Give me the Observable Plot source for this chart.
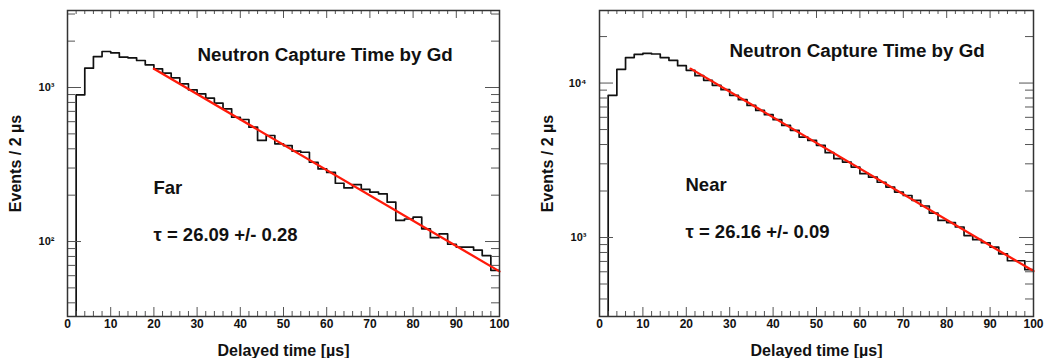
<!DOCTYPE html>
<html><head><meta charset="utf-8">
<script src="https://cdn.jsdelivr.net/npm/d3@7"></script>
<script src="https://cdn.jsdelivr.net/npm/@observablehq/plot@0.6"></script>
<style>
body{margin:0;background:#fff;}
#wrap{position:relative;width:1064px;height:358px;overflow:hidden;background:#fff;}
#left{position:absolute;left:0;top:0;}
#right{position:absolute;left:532px;top:0;}
</style></head><body>
<div id="wrap"><div id="left"></div><div id="right"></div></div>
<script>
// Bin lower edges (2 µs bins)
const binStart = [0,2,4,6,8,10,12,14,16,18,20,22,24,26,28,30,32,34,36,38,40,42,44,46,48,
  50,52,54,56,58,60,62,64,66,68,70,72,74,76,78,80,82,84,86,88,90,92,94,96,98];
const binEnd = 100;

// Far detector counts per bin
const farCounts = [0,897,1335,1589,1713,1680,1573,1558,1497,1404,1322,1238,1156,1056,966,910,852,791,727,641,
  620,553,453,488,431,420,386,380,327,296,281,239,223,234,218,209,204,180,137,140,
  144,121,106,112,96,92,92,88,81,65];
// Near detector counts per bin
const nearCounts = [0,8324,12270,14620,15350,15580,15420,14620,14030,12960,12090,11170,10410,9663,9060,8324,7804,7170,6655,6240,
  5790,5320,4940,4470,4250,3950,3540,3240,3080,2860,2590,2460,2280,2120,1970,1870,1740,1600,1440,1290,
  1250,1170,1030,968,925,866,784,707,707,619];

// Fit line end points (exponential = straight on log axis)
const farFitT = [20, 100];
const farFitV = [1322, 64];
const nearFitT = [21, 100];
const nearFitV = [12400, 606];

// Axis ticks
const xMajor = [0,10,20,30,40,50,60,70,80,90,100];
const xMinor = [2,4,6,8,12,14,16,18,22,24,26,28,32,34,36,38,42,44,46,48,52,54,56,58,62,64,66,68,72,74,76,78,82,84,86,88,92,94,96,98];
const farYMajor = [100, 1000];
const farYLabels = ["10²", "10³"];
const farYMinor = [40,50,60,70,80,90,200,300,400,500,600,700,800,900,2000,3000];
const nearYMajor = [1000, 10000];
const nearYLabels = ["10³", "10⁴"];
const nearYMinor = [400,500,600,700,800,900,2000,3000,4000,5000,6000,7000,8000,9000,20000];
const farYDomain = [32.6, 3162];
const nearYDomain = [308, 29500];

const titleText = "Neutron Capture Time by Gd";
const xLabel = "Delayed time [µs]";
const yLabel = "Events / 2 µs";

function panel({counts, fitT, fitV, yDomain, yMajor, yMinor, yLabels, name, tau, width, titleDy, nameDy, tauDy}) {
  const H = 358, mt = 10, mb = 42, ml = 67, mr = 12;
  const innerH = H - mt - mb;
  const innerW = width - ml - mr;
  const bins = binStart.map((t, i) => ({t, v: counts[i]}));
  bins.push({t: binEnd, v: counts[counts.length - 1]});
  const fit = fitT.map((t, i) => ({t, v: fitV[i]}));
  const tickColor = "#555";
  const font = {fontWeight: "bold", fontFamily: "'Liberation Sans', Arial, sans-serif"};
  return Plot.plot({
    width, height: H,
    marginTop: mt, marginBottom: mb, marginLeft: ml, marginRight: mr,
    style: {fontFamily: "'Liberation Sans', Arial, sans-serif", fontWeight: "bold", background: "#fff"},
    x: {domain: [0, 100]},
    y: {type: "log", domain: yDomain},
    marks: [
      Plot.line(bins, {x: "t", y: d => d.v > 0 ? d.v : 1, curve: "step-after", stroke: "#111", strokeWidth: 1.7, clip: true}),
      Plot.line(fit, {x: "t", y: "v", stroke: "#ff1a0a", strokeWidth: 2.3}),
      Plot.tickX(xMajor, {x: d => d, insetTop: innerH - 9, stroke: tickColor}),
      Plot.tickX(xMinor, {x: d => d, insetTop: innerH - 5, stroke: tickColor}),
      Plot.tickX(xMajor, {x: d => d, insetBottom: innerH - 8, stroke: tickColor}),
      Plot.tickX(xMinor, {x: d => d, insetBottom: innerH - 4, stroke: tickColor}),
      Plot.tickY(yMajor, {y: d => d, insetRight: innerW - 14, stroke: tickColor}),
      Plot.tickY(yMinor, {y: d => d, insetRight: innerW - 8, stroke: tickColor}),
      Plot.tickY(yMajor, {y: d => d, insetLeft: innerW - 14, stroke: tickColor}),
      Plot.tickY(yMinor, {y: d => d, insetLeft: innerW - 8, stroke: tickColor}),
      Plot.frame({stroke: "#333", strokeWidth: 1.5}),
      Plot.axisX({ticks: xMajor, tickSize: 0, tickPadding: 3, label: null, fontSize: 12, tickFormat: d => String(d), fill: "#111"}),
      Plot.axisY({ticks: yMajor, tickSize: 0, tickPadding: 13, label: null, fontSize: 11, tickFormat: d => yLabels[yMajor.indexOf(d)], fill: "#111"}),
      Plot.text([xLabel], {text: d => d, frameAnchor: "bottom", dy: 34, lineAnchor: "middle", fontSize: 16, ...font, fill: "#111"}),
      Plot.text([yLabel], {text: d => d, frameAnchor: "left", dx: -52, rotate: -90, lineAnchor: "middle", textAnchor: "middle", fontSize: 16, ...font, fill: "#111"}),
      Plot.text([titleText], {text: d => d, frameAnchor: "top-left", dx: 130, dy: titleDy, textAnchor: "start", lineAnchor: "middle", fontSize: 18.8, ...font, fill: "#111"}),
      Plot.text([name], {text: d => d, frameAnchor: "top-left", dx: 86, dy: nameDy, textAnchor: "start", lineAnchor: "middle", fontSize: 18.5, ...font, fill: "#111"}),
      Plot.text([tau], {text: d => d, frameAnchor: "top-left", dx: 86, dy: tauDy, textAnchor: "start", lineAnchor: "middle", fontSize: 18.5, ...font, fill: "#111"})
    ]
  });
}

document.getElementById("left").append(panel({
  counts: farCounts, fitT: farFitT, fitV: farFitV, yDomain: farYDomain, yMajor: farYMajor, yMinor: farYMinor,
  yLabels: farYLabels, name: "Far", tau: "τ = 26.09 +/- 0.28", width: 511, titleDy: 44, nameDy: 178, tauDy: 225
}));
document.getElementById("right").append(panel({
  counts: nearCounts, fitT: nearFitT, fitV: nearFitV, yDomain: nearYDomain, yMajor: nearYMajor, yMinor: nearYMinor,
  yLabels: nearYLabels, name: "Near", tau: "τ = 26.16 +/- 0.09", width: 513, titleDy: 40, nameDy: 175, tauDy: 222
}));
</script>
</body></html>
